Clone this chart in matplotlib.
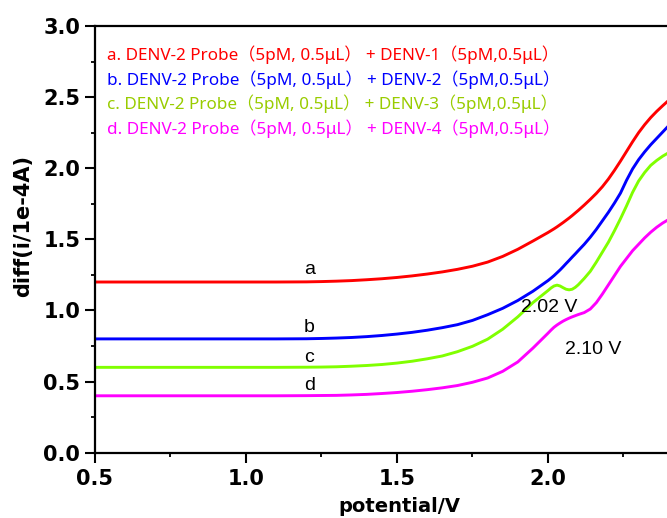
import numpy as np
import matplotlib
matplotlib.use("Agg")
import matplotlib.pyplot as plt
from matplotlib.ticker import MultipleLocator

# potential (V) sampled along the curves
potential = [0.5, 0.8, 1.1, 1.2, 1.25, 1.3, 1.35, 1.4, 1.45, 1.5, 1.55, 1.6, 1.65, 1.7,
             1.75, 1.8, 1.85, 1.9, 1.95,
             2.0, 2.01, 2.02, 2.03, 2.04, 2.05, 2.06, 2.07, 2.08, 2.09, 2.1,
             2.12, 2.14, 2.16, 2.18, 2.2, 2.22, 2.24, 2.26, 2.28, 2.3, 2.32, 2.34,
             2.36, 2.38, 2.4]

curve_a = [1.200, 1.200, 1.200, 1.201, 1.203, 1.206, 1.210, 1.216, 1.223, 1.232, 1.243,
           1.256, 1.271, 1.289, 1.311, 1.340, 1.380, 1.430, 1.488,
           1.548, 1.561, 1.574, 1.588, 1.603, 1.618, 1.634, 1.650, 1.667, 1.685, 1.703,
           1.741, 1.781, 1.823, 1.870, 1.924, 1.985, 2.050, 2.118, 2.186, 2.250, 2.306,
           2.356, 2.400, 2.440, 2.478]
curve_b = [0.800, 0.800, 0.800, 0.801, 0.803, 0.806, 0.810, 0.816, 0.824, 0.834, 0.846,
           0.861, 0.879, 0.900, 0.930, 0.970, 1.015, 1.070, 1.135,
           1.210, 1.227, 1.245, 1.265, 1.285, 1.307, 1.330, 1.352, 1.375, 1.397, 1.420,
           1.465, 1.515, 1.570, 1.630, 1.690, 1.755, 1.825, 1.915, 1.995, 2.060, 2.115,
           2.165, 2.210, 2.255, 2.300]
curve_c = [0.600, 0.600, 0.600, 0.601, 0.602, 0.604, 0.608, 0.613, 0.620, 0.630, 0.643,
           0.660, 0.680, 0.710, 0.748, 0.798, 0.868, 0.955, 1.055,
           1.140, 1.158, 1.172, 1.178, 1.172, 1.160, 1.149, 1.145, 1.149, 1.162, 1.180,
           1.225, 1.275, 1.340, 1.410, 1.480, 1.560, 1.645, 1.735, 1.830, 1.910, 1.970,
           2.020, 2.055, 2.085, 2.110]
curve_d = [0.400, 0.400, 0.400, 0.401, 0.402, 0.403, 0.406, 0.410, 0.416, 0.423, 0.432,
           0.443, 0.456, 0.472, 0.495, 0.525, 0.572, 0.638, 0.735,
           0.840, 0.862, 0.882, 0.898, 0.912, 0.925, 0.936, 0.946, 0.955, 0.963, 0.971,
           0.985, 1.010, 1.055, 1.115, 1.180, 1.245, 1.310, 1.365, 1.420, 1.465, 1.510,
           1.550, 1.585, 1.615, 1.640]

labels = ["a. DENV-2 Probe（5pM, 0.5μL） + DENV-1（5pM,0.5μL）",
          "b. DENV-2 Probe（5pM, 0.5μL） + DENV-2（5pM,0.5μL）",
          "c. DENV-2 Probe（5pM, 0.5μL） + DENV-3（5pM,0.5μL）",
          "d. DENV-2 Probe（5pM, 0.5μL） + DENV-4（5pM,0.5μL）"]
line_colors = ["#ff0000", "#0000ff", "#80ff00", "#ff00ff"]
text_colors = ["#ff0000", "#0000ff", "#99cc00", "#ff00ff"]

fig = plt.figure(figsize=(6.67, 5.18), dpi=100)
ax = fig.add_axes([0.1424, 0.1261, 0.8603, 0.8237])

for y, c in zip([curve_a, curve_b, curve_c, curve_d], line_colors):
    ax.plot(potential, y, color=c, lw=2.1)

ax.set_xlim(0.5, 2.4)
ax.set_ylim(0, 3.0)
ax.xaxis.set_major_locator(MultipleLocator(0.5))
ax.xaxis.set_minor_locator(MultipleLocator(0.25))
ax.yaxis.set_major_locator(MultipleLocator(0.5))
ax.yaxis.set_minor_locator(MultipleLocator(0.25))
ax.tick_params(which="major", direction="out", length=7, width=1.5, labelsize=15)
ax.tick_params(which="minor", direction="out", length=3, width=1.3)
ax.tick_params(axis="x", which="major", pad=4.5)
ax.tick_params(axis="y", which="major", pad=3.6)
for lab in ax.get_xticklabels() + ax.get_yticklabels():
    lab.set_fontweight("bold")
    lab.set_family("DejaVu Sans")
for sp in ax.spines.values():
    sp.set_linewidth(1.6)

ax.set_xlabel("potential/V", fontsize=14, fontweight="bold", family="DejaVu Sans")
ax.set_ylabel("diff(i/1e-4A)", fontsize=15, fontweight="bold", family="DejaVu Sans")
ax.xaxis.set_label_coords(0.531, -0.103)
ax.yaxis.set_label_coords(-0.108, 0.531)

# legend-like colored text
for i, (t, c) in enumerate(zip(labels, text_colors)):
    ax.text(0.54, 2.80 - i * 0.174, t, color=c, fontsize=12.3,
            family=["Noto Sans", "Noto Sans CJK SC", "DejaVu Sans"], va="center", ha="left")

# curve letters
for s, yy in zip(["a", "b", "c", "d"], [1.285, 0.88, 0.67, 0.47]):
    ax.text(1.21, yy, s, fontsize=14, family="Liberation Sans", ha="center", va="center")

ax.text(2.003, 1.024, "2.02 V", fontsize=14, family="Liberation Sans", ha="center", va="center")
ax.text(2.149, 0.722, "2.10 V", fontsize=14, family="Liberation Sans", ha="center", va="center")

fig.savefig("out.png", dpi=100)
